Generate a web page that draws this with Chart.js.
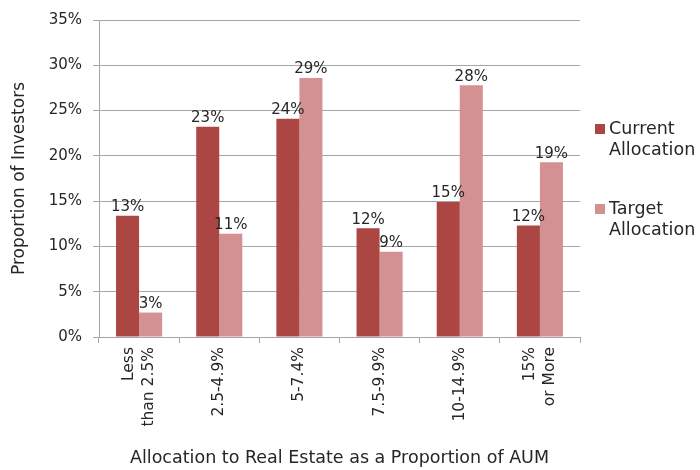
<!DOCTYPE html>
<html>
<head>
<meta charset="UTF-8">
<title>Real Estate Allocation</title>
<script src="https://cdn.jsdelivr.net/npm/chart.js@4"></script>
<style>
  html, body { margin: 0; padding: 0; background: #fff; }
  #wrap { width: 700px; height: 470px; }
</style>
</head>
<body>
<div id="wrap"><canvas id="chart" width="700" height="470"></canvas></div>
<script>
// データ
const categories = [["Less", "than 2.5%"], ["2.5-4.9%"], ["5-7.4%"], ["7.5-9.9%"], ["10-14.9%"], ["15%", "or More"]];
const currentAllocation = [13.4, 23.2, 24.1, 12.0, 14.9, 12.3];
const targetAllocation = [2.7, 11.4, 28.6, 9.4, 27.8, 19.3];
const seriesNames = [["Current", "Allocation"], ["Target", "Allocation"]];
const yTicks = [0, 5, 10, 15, 20, 25, 30, 35];

const FONT = "'DejaVu Sans', sans-serif";
const TEXT = "#262626";

// バーの上にラベルを描く
const valueLabels = {
  id: "valueLabels",
  afterDatasetsDraw(chart) {
    const ctx = chart.ctx;
    ctx.save();
    ctx.font = "15px " + FONT;
    ctx.fillStyle = TEXT;
    ctx.textAlign = "center";
    ctx.textBaseline = "bottom";
    chart.data.datasets.forEach((ds, i) => {
      chart.getDatasetMeta(i).data.forEach((bar, j) => {
        ctx.fillText(Math.round(ds.data[j]) + "%", bar.x, bar.y - 1);
      });
    });
    ctx.restore();
  },
};

// X軸ラベル（縦書き、複数行を中央揃え）
const xLabels = {
  id: "xLabels",
  afterDraw(chart) {
    const ctx = chart.ctx;
    const scale = chart.scales.x;
    const lineH = 20;
    ctx.save();
    ctx.font = "15.5px " + FONT;
    ctx.fillStyle = TEXT;
    ctx.textAlign = "right";
    ctx.textBaseline = "middle";
    categories.forEach((lines, i) => {
      const px = scale.getPixelForTick(i);
      const y0 = scale.top + 10;
      ctx.save();
      ctx.translate(px, y0);
      ctx.rotate(-Math.PI / 2);
      lines.forEach((line, k) => {
        const off = (k - (lines.length - 1) / 2) * lineH;
        ctx.fillText(line, 0, off);
      });
      ctx.restore();
    });
    ctx.restore();
  },
};

// 右側の凡例
const sideLegend = {
  id: "sideLegend",
  afterDraw(chart) {
    const ctx = chart.ctx;
    const x = chart.chartArea.right + 15;
    const tops = [120, 200];
    ctx.save();
    ctx.font = "17.5px " + FONT;
    ctx.textBaseline = "middle";
    chart.data.datasets.forEach((ds, i) => {
      const y = tops[i];
      ctx.fillStyle = ds.backgroundColor;
      ctx.fillRect(x, y + 4, 10, 10);
      ctx.fillStyle = TEXT;
      seriesNames[i].forEach((line, k) => {
        ctx.fillText(line, x + 14, y + 9 + k * 21);
      });
    });
    ctx.restore();
  },
};

new Chart(document.getElementById("chart"), {
  type: "bar",
  data: {
    labels: categories.map((c) => c.join(" ")),
    datasets: [
      {
        label: "Current Allocation",
        data: currentAllocation,
        backgroundColor: "#AB4643",
        categoryPercentage: 0.575,
        barPercentage: 1.0,
      },
      {
        label: "Target Allocation",
        data: targetAllocation,
        backgroundColor: "#D39192",
        categoryPercentage: 0.575,
        barPercentage: 1.0,
      },
    ],
  },
  options: {
    responsive: false,
    animation: false,
    layout: { padding: { top: 18, right: 120, left: 9, bottom: 0 } },
    plugins: {
      legend: { display: false },
      tooltip: { enabled: false },
    },
    scales: {
      y: {
        min: 0,
        max: 35,
        afterBuildTicks(scale) {
          scale.ticks = yTicks.map((v) => ({ value: v }));
        },
        afterFit(scale) {
          scale.width = 90;
        },
        ticks: {
          color: TEXT,
          font: { family: FONT, size: 15 },
          padding: 11,
          callback: (v) => v + "%",
        },
        grid: { color: "#a6a6a6", tickLength: 6 },
        border: { color: "#a6a6a6" },
        title: {
          display: true,
          text: "Proportion of Investors",
          color: TEXT,
          font: { family: FONT, size: 17 },
          padding: { top: 0, bottom: 0 },
        },
      },
      x: {
        afterFit(scale) {
          scale.height = 133;
        },
        ticks: {
          display: true,
          autoSkip: false,
          color: "rgba(0,0,0,0)",
          minRotation: 90,
          maxRotation: 90,
          font: { family: FONT, size: 15.5 },
        },
        grid: {
          drawOnChartArea: false,
          color: "#a6a6a6",
          tickLength: 6,
          offset: true,
        },
        border: { color: "#a6a6a6" },
        title: {
          display: true,
          text: "Allocation to Real Estate as a Proportion of AUM",
          color: TEXT,
          font: { family: FONT, size: 17.5 },
          padding: { top: 0, bottom: 1 },
        },
      },
    },
  },
  plugins: [valueLabels, xLabels, sideLegend],
});
</script>
</body>
</html>
